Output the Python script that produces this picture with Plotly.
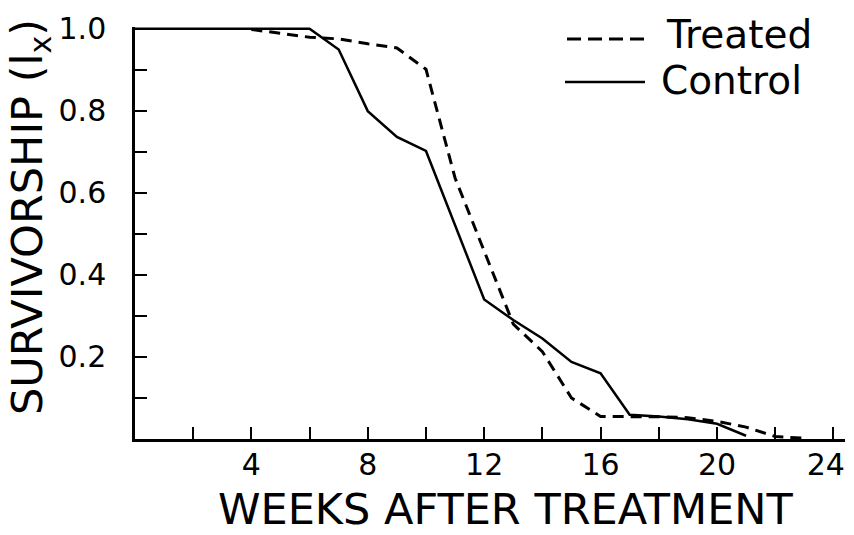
import plotly.graph_objects as go

# ---- data ----
control_weeks = [0, 6, 7, 8, 9, 10, 12, 13, 14, 15, 16, 17, 18, 19, 20, 21]
control_lx = [1.0, 1.0, 0.949, 0.799, 0.736, 0.702, 0.340, 0.290, 0.245, 0.188, 0.160, 0.059, 0.055, 0.048, 0.037, 0.008]

treated_weeks = [4, 6, 7, 8, 9, 10, 11, 12, 13, 14, 15, 16, 17, 18, 19, 20, 21, 22, 23]
treated_lx = [0.998, 0.979, 0.975, 0.963, 0.953, 0.901, 0.636, 0.456, 0.280, 0.213, 0.100, 0.055, 0.055, 0.054, 0.052, 0.043, 0.029, 0.006, 0.002]

x_tickvals = [4, 8, 12, 16, 20, 24]
x_ticktext = ["4", "8", "12", "16", "20", "24\u2002"]
x_minor_ticks = [2, 6, 10, 14, 18, 22]
y_tickvals = [0.2, 0.4, 0.6, 0.8, 1.0]
y_ticktext = ["0.2", "0.4", "0.6", "0.8", "1.0"]
y_minor_ticks = [0.1, 0.3, 0.5, 0.7, 0.9]

series_names = ["Treated", "Control"]
x_title = "WEEKS AFTER TREATMENT"
y_title = "SURVIVORSHIP (l<sub>x</sub>)"

FONT = "DejaVu Sans"
OFF = 8  # default page body margin
W, H = 854 - OFF, 535 - OFF
L, R, T, B = 135 - OFF, 9, 27 - OFF, 96
pw, ph = W - L - R, H - T - B


def px(xs):
    return (xs - OFF - L) / pw


def py(ys):
    return (H - B - (ys - OFF)) / ph


fig = go.Figure()
fig.add_trace(go.Scatter(x=treated_weeks, y=treated_lx, mode="lines", name=series_names[0],
                         line=dict(color="black", width=3, dash="11px,7px"), showlegend=False))
fig.add_trace(go.Scatter(x=control_weeks, y=control_lx, mode="lines", name=series_names[1],
                         line=dict(color="black", width=2.5), showlegend=False))

# manual legend
fig.add_shape(type="line", xref="paper", yref="paper", x0=px(567), x1=px(647), y0=py(39), y1=py(39),
              line=dict(color="black", width=3, dash="14px,7px"))
fig.add_shape(type="line", xref="paper", yref="paper", x0=px(565), x1=px(645), y0=py(82), y1=py(82),
              line=dict(color="black", width=2.5))
fig.add_annotation(xref="paper", yref="paper", x=px(664), y=py(35), text=series_names[0],
                   showarrow=False, xanchor="left", yanchor="middle",
                   font=dict(family=FONT, size=39, color="black"))
fig.add_annotation(xref="paper", yref="paper", x=px(659), y=py(80), text=series_names[1],
                   showarrow=False, xanchor="left", yanchor="middle",
                   font=dict(family=FONT, size=39, color="black"))

# axis titles
fig.add_annotation(xref="paper", yref="paper", x=px(505), y=py(509), text=x_title,
                   showarrow=False, xanchor="center", yanchor="middle",
                   font=dict(family=FONT, size=43, color="black"))
fig.add_annotation(xref="paper", yref="paper", x=px(30), y=py(217), text=y_title, textangle=-90,
                   showarrow=False, xanchor="center", yanchor="middle",
                   font=dict(family=FONT, size=43, color="black"))

fig.update_xaxes(range=[0, 24.4], showline=True, linecolor="black", linewidth=2.5,
                 ticks="inside", ticklen=12, tickwidth=2, tickcolor="black",
                 tickvals=x_tickvals, ticktext=x_ticktext, showgrid=False, zeroline=False,
                 minor=dict(tickvals=x_minor_ticks, ticks="inside", ticklen=12, tickwidth=2,
                            tickcolor="black", showgrid=False),
                 tickfont=dict(family=FONT, size=30, color="black"), ticklabelstandoff=-3,
                 ticklabeloverflow="allow", automargin=False)
fig.update_yaxes(range=[0, 1.004], showline=True, linecolor="black", linewidth=2.5,
                 ticks="inside", ticklen=12, tickwidth=2, tickcolor="black",
                 tickvals=y_tickvals, ticktext=y_ticktext, showgrid=False, zeroline=False,
                 minor=dict(tickvals=y_minor_ticks, ticks="inside", ticklen=12, tickwidth=2,
                            tickcolor="black", showgrid=False),
                 tickfont=dict(family=FONT, size=30, color="black"), ticklabelstandoff=20,
                 automargin=False)

fig.update_layout(width=W, height=H, margin=dict(l=L, r=R, t=T, b=B, autoexpand=False),
                  paper_bgcolor="white", plot_bgcolor="white", showlegend=False)

fig.write_html("out.html")
